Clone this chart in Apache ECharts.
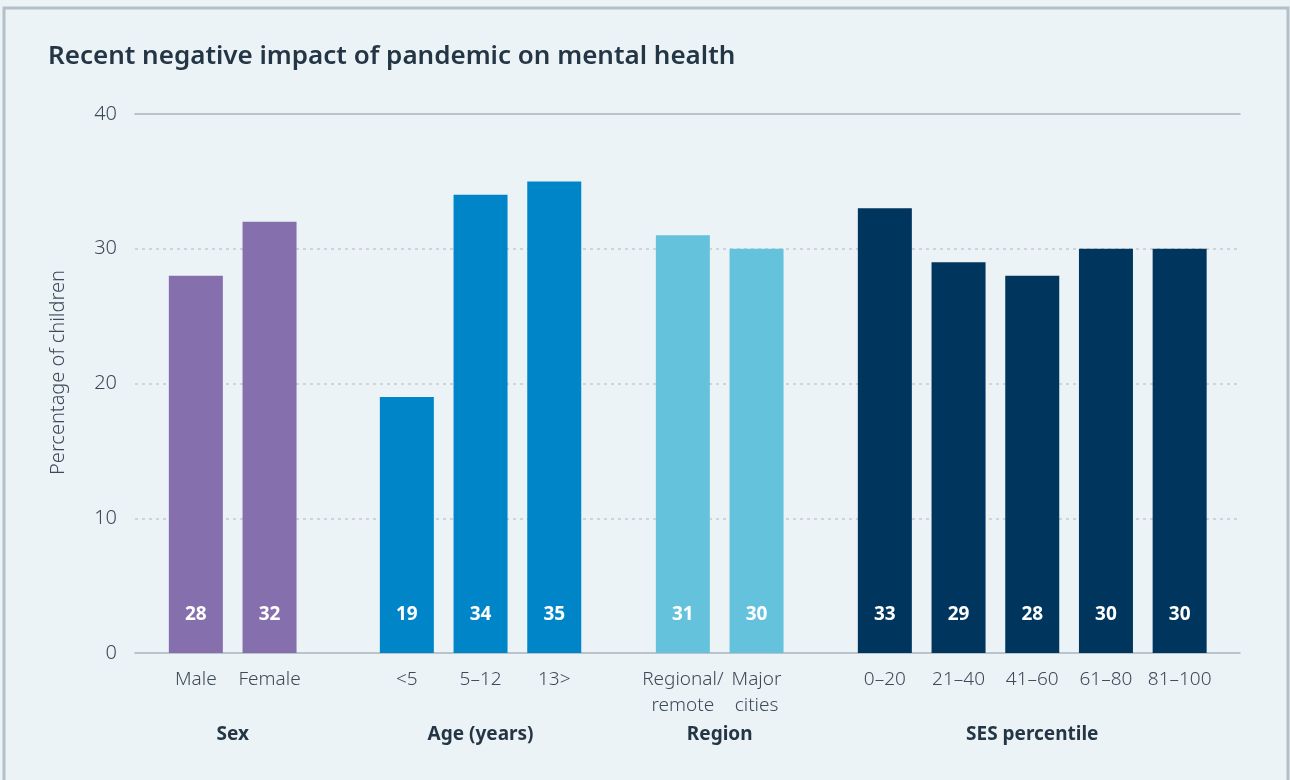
<!DOCTYPE html>
<html>
<head>
<meta charset="utf-8">
<style>
  html, body { margin: 0; padding: 0; background: #ecf3f6; }
  #chart { width: 1290px; height: 780px; }
</style>
<script src="https://cdn.jsdelivr.net/npm/echarts@6/dist/echarts.min.js"></script>
</head>
<body>
<div id="chart"></div>
<script>
// Share of children whose mental health was recently hurt by the pandemic
const chartTitle = 'Recent negative impact of pandemic on mental health';
const yAxisName = 'Percentage of children';
const yMin = 0, yMax = 40, yStep = 10;

const groupNames = ['Sex', 'Age (years)', 'Region', 'SES percentile'];

const sexCats = ['Male', 'Female'];
const sexVals = [28, 32];

const ageCats = ['<5', '5–12', '13>'];
const ageVals = [19, 34, 35];

const regionCats = ['Regional/\nremote', 'Major\ncities'];
const regionVals = [31, 30];

const sesCats = ['0–20', '21–40', '41–60', '61–80', '81–100'];
const sesVals = [33, 29, 28, 30, 30];

const groupCats = [sexCats, ageCats, regionCats, sesCats];
const groupVals = [sexVals, ageVals, regionVals, sesVals];
const groupColors = ['#866fad', '#0086c8', '#65c2dc', '#00355e'];

// layout
const FONT = '"Noto Sans", "Open Sans", sans-serif';
const TEXT = '#3c4a59';
const DARK = '#243646';
const PLOT_TOP = 114, PLOT_BOTTOM = 127, PLOT_LEFT = 135, PLOT_RIGHT = 50;
const SLOT = 73.7;
const groupLefts = [159, 370, 646, 848];

const grids = [{ left: PLOT_LEFT, right: PLOT_RIGHT, top: PLOT_TOP, bottom: PLOT_BOTTOM }];
const xAxes = [
  { gridIndex: 0, type: 'value', min: 0, max: 1, position: 'bottom',
    axisLine: { show: true, onZero: false, lineStyle: { color: '#a9b4bc', width: 1.5 } },
    axisTick: { show: false }, axisLabel: { show: false }, splitLine: { show: false } },
  { gridIndex: 0, type: 'value', min: 0, max: 1, position: 'top',
    axisLine: { show: true, onZero: false, lineStyle: { color: '#a9b4bc', width: 1.5 } },
    axisTick: { show: false }, axisLabel: { show: false }, splitLine: { show: false } }
];
const yAxes = [
  { gridIndex: 0, type: 'value', min: yMin, max: yMax, interval: yStep,
    name: yAxisName, nameLocation: 'middle', nameGap: 67,
    nameTextStyle: { fontFamily: FONT, fontSize: 20, fontWeight: 300, color: TEXT, padding: [0, 0, 0, 22] },
    axisLine: { show: false }, axisTick: { show: false },
    axisLabel: { fontFamily: FONT, fontSize: 20, fontWeight: 300, color: TEXT, margin: 18 },
    splitLine: { show: true, showMinLine: false, showMaxLine: false,
      lineStyle: { color: '#c3cacf', type: [3, 4], width: 1.5 } } }
];
const series = [];

groupCats.forEach((cats, i) => {
  const gi = i + 1;
  grids.push({ left: groupLefts[i], width: SLOT * cats.length, top: PLOT_TOP, bottom: PLOT_BOTTOM });
  xAxes.push({
    gridIndex: gi, type: 'category', data: cats,
    name: groupNames[i], nameLocation: 'middle', nameGap: 72,
    nameTextStyle: { fontFamily: FONT, fontSize: 19, fontWeight: 'bold', color: DARK },
    axisLine: { show: false }, axisTick: { show: false },
    axisLabel: { fontFamily: FONT, fontSize: 19, fontWeight: 300, color: TEXT, margin: 14, lineHeight: 26, interval: 0 }
  });
  yAxes.push({ gridIndex: gi, type: 'value', min: yMin, max: yMax, interval: yStep, show: false,
    splitLine: { show: false } });
  series.push({
    type: 'bar', name: groupNames[i], xAxisIndex: i + 2, yAxisIndex: gi,
    data: groupVals[i], barWidth: 54,
    itemStyle: { color: groupColors[i] },
    label: { show: true, position: 'insideBottom', distance: 29,
      fontFamily: FONT, fontSize: 19, fontWeight: 'bold', color: '#ffffff' }
  });
});

const chart = echarts.init(document.getElementById('chart'), null, { renderer: 'canvas' });
chart.setOption({
  backgroundColor: '#ecf3f6',
  animation: false,
  title: {
    text: chartTitle, left: 43, top: 39,
    textStyle: { fontFamily: FONT, fontSize: 26, fontWeight: 600, color: DARK }
  },
  graphic: [{
    type: 'rect', silent: true,
    shape: { x: 4, y: 8, width: 1284, height: 800 },
    style: { fill: 'none', stroke: '#b3c0c8', lineWidth: 3 }
  }],
  grid: grids,
  xAxis: xAxes,
  yAxis: yAxes,
  series: series
});
</script>
</body>
</html>
